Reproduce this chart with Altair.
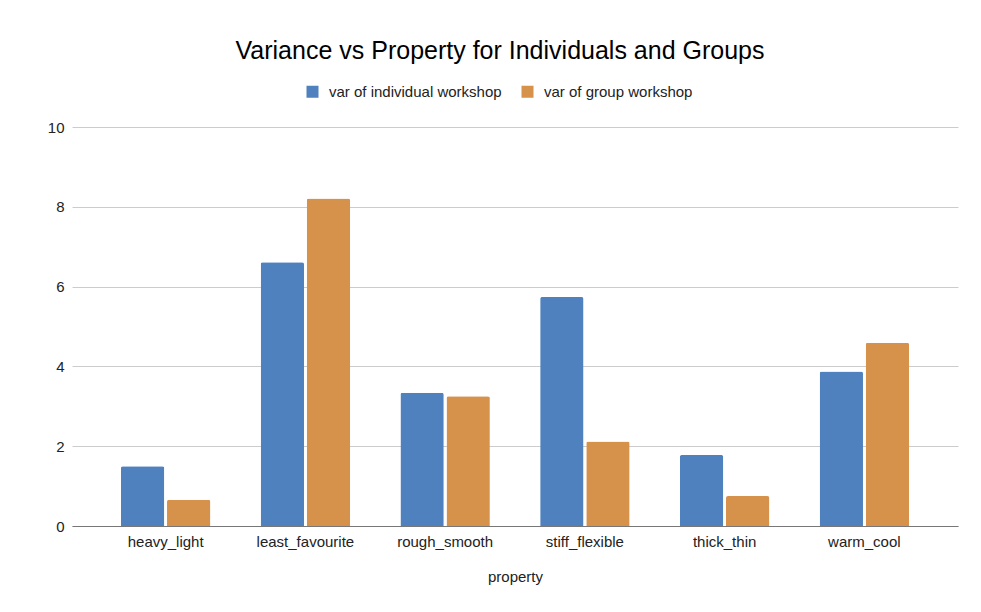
import altair as alt
import pandas as pd

# Variance of each property rating, per workshop format
properties = ["heavy_light", "least_favourite", "rough_smooth",
              "stiff_flexible", "thick_thin", "warm_cool"]
var_individual = [1.50, 6.61, 3.34, 5.74, 1.78, 3.87]
var_group = [0.66, 8.21, 3.25, 2.12, 0.75, 4.59]

series_names = ["var of individual workshop", "var of group workshop"]
series_colors = ["#4e81bd", "#d6914b"]

rows = []
for p, vi, vg in zip(properties, var_individual, var_group):
    rows.append({"property": p, "series": series_names[0], "value": vi})
    rows.append({"property": p, "series": series_names[1], "value": vg})
df = pd.DataFrame(rows)

FONT = "Liberation Sans"

bars = alt.Chart(df).mark_bar(
    cornerRadiusTopLeft=2, cornerRadiusTopRight=2
).encode(
    x=alt.X(
        "property:N",
        sort=properties,
        title="property",
        scale=alt.Scale(paddingInner=0.36, paddingOuter=0.35),
        axis=alt.Axis(
            labelAngle=0, labelFontSize=15, labelColor="#222222",
            labelPadding=8, ticks=False, domainColor="#777777",
            domainWidth=1.2, titleFontSize=15, titleFontWeight="normal",
            titleColor="#222222", titlePadding=20,
        ),
    ),
    xOffset=alt.XOffset(
        "series:N", sort=series_names,
        scale=alt.Scale(paddingInner=0.06),
    ),
    y=alt.Y(
        "value:Q",
        title=None,
        scale=alt.Scale(domain=[0, 10]),
        axis=alt.Axis(
            values=[0, 2, 4, 6, 8, 10], labelFontSize=15,
            labelColor="#222222", labelPadding=8, ticks=False,
            domain=False, gridColor="#cccccc", gridWidth=1,
        ),
    ),
    color=alt.Color(
        "series:N",
        sort=series_names,
        scale=alt.Scale(domain=series_names, range=series_colors),
        legend=alt.Legend(
            title=None, orient="none", direction="horizontal",
            legendX=233, legendY=-43, symbolType="square",
            symbolSize=144, symbolStrokeWidth=0, labelFontSize=15,
            labelColor="#222222", labelOffset=9, columnPadding=18,
            labelLimit=400,
        ),
    ),
)

chart = bars.properties(
    width=886,
    height=399,
    title=alt.TitleParams(
        "Variance vs Property for Individuals and Groups",
        fontSize=25, font=FONT, fontWeight="normal", color="#000000",
        anchor="middle", dx=-15, offset=20,
    ),
    autosize=alt.AutoSizeParams(type="none"),
    padding={"left": 72, "top": 127, "right": 23, "bottom": 86},
).configure(
    font=FONT,
    background="white",
).configure_view(
    strokeWidth=0,
)

chart.save("out.html", embed_options={"renderer": "svg", "actions": False})
